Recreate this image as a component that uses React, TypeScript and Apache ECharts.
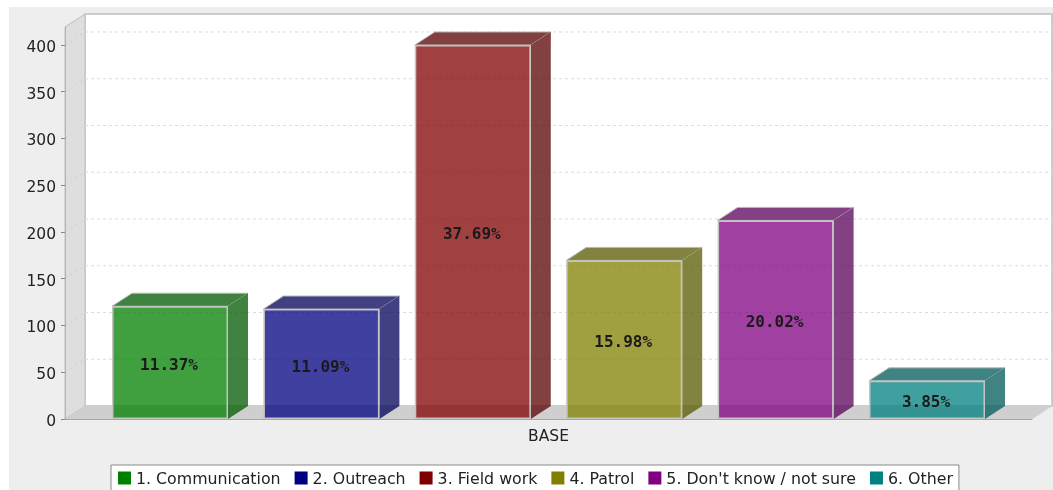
import React, { useEffect, useRef } from "react";
import * as echarts from "echarts";

const categories = ["BASE"];
const seriesNames = ["1. Communication", "2. Outreach", "3. Field work", "4. Patrol", "5. Don't know / not sure", "6. Other"];
const seriesValues = [120.6, 117.6, 400, 169.6, 212.4, 40.8];
const percentLabels = ["11.37%", "11.09%", "37.69%", "15.98%", "20.02%", "3.85%"];
const baseColors = ["#008000", "#000080", "#800000", "#808000", "#800080", "#008080"];
const frontColors = ["rgba(0,128,0,0.75)", "rgba(0,0,128,0.75)", "rgba(128,0,0,0.75)", "rgba(128,128,0,0.75)", "rgba(128,0,128,0.75)", "rgba(0,128,128,0.75)"];
const shadeColors = ["rgba(0,89,0,0.75)", "rgba(0,0,89,0.75)", "rgba(89,0,0,0.75)", "rgba(89,89,0,0.75)", "rgba(89,0,89,0.75)", "rgba(0,89,89,0.75)"];
const yTicks = [0, 50, 100, 150, 200, 250, 300, 350, 400];
const yMax = 419.25;

const DX = 20;
const DY = -13;
const BAR_W = 116;
const BAR_PITCH = 151.4;
const FONT = "'DejaVu Sans', sans-serif";

function renderWalls(params: any, api: any) {
  const g = params.coordSys;
  const x0 = g.x, x1 = g.x + g.width, yT = g.y, yB = g.y + g.height;
  const children: any[] = [
    { type: "rect", shape: { x: x0 + DX, y: yT + DY, width: g.width, height: g.height }, style: { fill: "#ffffff", stroke: "#c0c0c0", lineWidth: 1.5 } },
    { type: "polygon", shape: { points: [[x0, yT], [x0 + DX, yT + DY], [x0 + DX, yB + DY], [x0, yB]] }, style: { fill: "#dedede", stroke: "#c0c0c0", lineWidth: 1 } },
    { type: "polygon", shape: { points: [[x0, yB], [x0 + DX, yB + DY], [x1 + DX, yB + DY], [x1, yB]] }, style: { fill: "#cfcfcf", stroke: "#cfcfcf", lineWidth: 0.5 } },
  ];
  yTicks.slice(1).forEach((t) => {
    const y = api.coord([0, t])[1];
    children.push({ type: "line", shape: { x1: x0, y1: y, x2: x0 + DX, y2: y + DY }, style: { stroke: "#d2d2d2", lineWidth: 1, lineDash: [3, 3] } });
    children.push({ type: "line", shape: { x1: x0 + DX, y1: y + DY, x2: x1 + DX, y2: y + DY }, style: { stroke: "#dcdcdc", lineWidth: 1, lineDash: [3, 3] } });
  });
  return { type: "group", children };
}

function renderDepth(params: any, api: any) {
  const i = api.value(2);
  const [cx, yBase] = api.coord([0, 0]);
  const yTop = api.coord([0, api.value(1)])[1];
  const l = cx + (i - 2.5) * BAR_PITCH - BAR_W / 2;
  const r = l + BAR_W;
  const edge = { fill: shadeColors[i], stroke: "#b8b8b8", lineWidth: 1 };
  return {
    type: "group",
    children: [
      { type: "polygon", shape: { points: [[l, yTop], [l + DX, yTop + DY], [r + DX, yTop + DY], [r, yTop]] }, style: edge },
      { type: "polygon", shape: { points: [[r, yTop], [r + DX, yTop + DY], [r + DX, yBase + DY], [r, yBase]] }, style: { fill: shadeColors[i] } },
    ],
  };
}

export default function App() {
  const ref = useRef<HTMLDivElement>(null);
  useEffect(() => {
    const chart = echarts.init(ref.current!, undefined, { renderer: "svg" });
    chart.setOption({
      animation: false,
      backgroundColor: "#ffffff",
      graphic: [{ type: "rect", z: -10, silent: true, shape: { x: 9, y: 7, width: 1044, height: 483 }, style: { fill: "#eeeeee" } }],
      grid: { left: 65, top: 27, width: 967, height: 392 },
      xAxis: {
        type: "category",
        data: categories,
        axisLine: { lineStyle: { color: "#a8a8a8", width: 1 } },
        axisTick: { show: false },
        axisLabel: { color: "#222", fontFamily: FONT, fontSize: 15.5, margin: 9 },
        z: 5,
      },
      yAxis: {
        type: "value",
        min: 0,
        max: yMax,
        interval: 50,
        splitLine: { show: false },
        axisLine: { show: true, lineStyle: { color: "#b4b4b4", width: 1 } },
        axisTick: { show: true, length: 4, lineStyle: { color: "#888" }, customValues: yTicks },
        axisLabel: {
          margin: 9,
          customValues: yTicks,
          formatter: "{a|{value}}",
          rich: { a: { color: "#222", fontFamily: FONT, fontSize: 15.5, padding: [4, 0, 0, 0] } },
        },
        z: 5,
      },
      legend: {
        left: 111,
        top: 465,
        padding: [5, 6, 5, 7],
        backgroundColor: "#ffffff",
        borderColor: "#8a8a8a",
        borderWidth: 1,
        borderRadius: 0,
        itemWidth: 13,
        itemHeight: 13,
        itemGap: 14,
        itemTextGap: 5,
        selectedMode: false,
        textStyle: { color: "#222", fontFamily: FONT, fontSize: 15.8 },
        data: seriesNames.map((name, i) => ({ name, icon: "rect", itemStyle: { color: baseColors[i], borderWidth: 0, opacity: 1 } })),
      },
      series: [
        { type: "custom", name: "walls", silent: true, clip: false, z: 0, data: [[0, 0]], encode: { x: 0, y: 1 }, renderItem: renderWalls },
        { type: "custom", name: "depth", silent: true, clip: false, z: 1, data: seriesValues.map((v, i) => [0, v, i]), encode: { x: 0, y: 1 }, renderItem: renderDepth },
        ...seriesNames.map((name, i) => ({
          type: "bar",
          name,
          z: 2,
          data: [seriesValues[i]],
          barWidth: BAR_W,
          barGap: `${((BAR_PITCH - BAR_W) / BAR_W) * 100}%`,
          barCategoryGap: 0,
          itemStyle: { color: frontColors[i], borderColor: "#c4c4c4", borderWidth: 1.5 },
          label: {
            show: true,
            position: "inside",
            offset: [-1, 2],
            formatter: percentLabels[i],
            color: "#1a1a1a",
            fontFamily: "'DejaVu Sans Mono', monospace",
            fontWeight: "bold",
            fontSize: 16,
          },
        })),
      ],
    });
    return () => chart.dispose();
  }, []);
  return (
    <div
      ref={ref}
      style={{ position: "fixed", left: 0, top: 0, width: 1053, height: 490, filter: "blur(0.6px)" }}
    />
  );
}
